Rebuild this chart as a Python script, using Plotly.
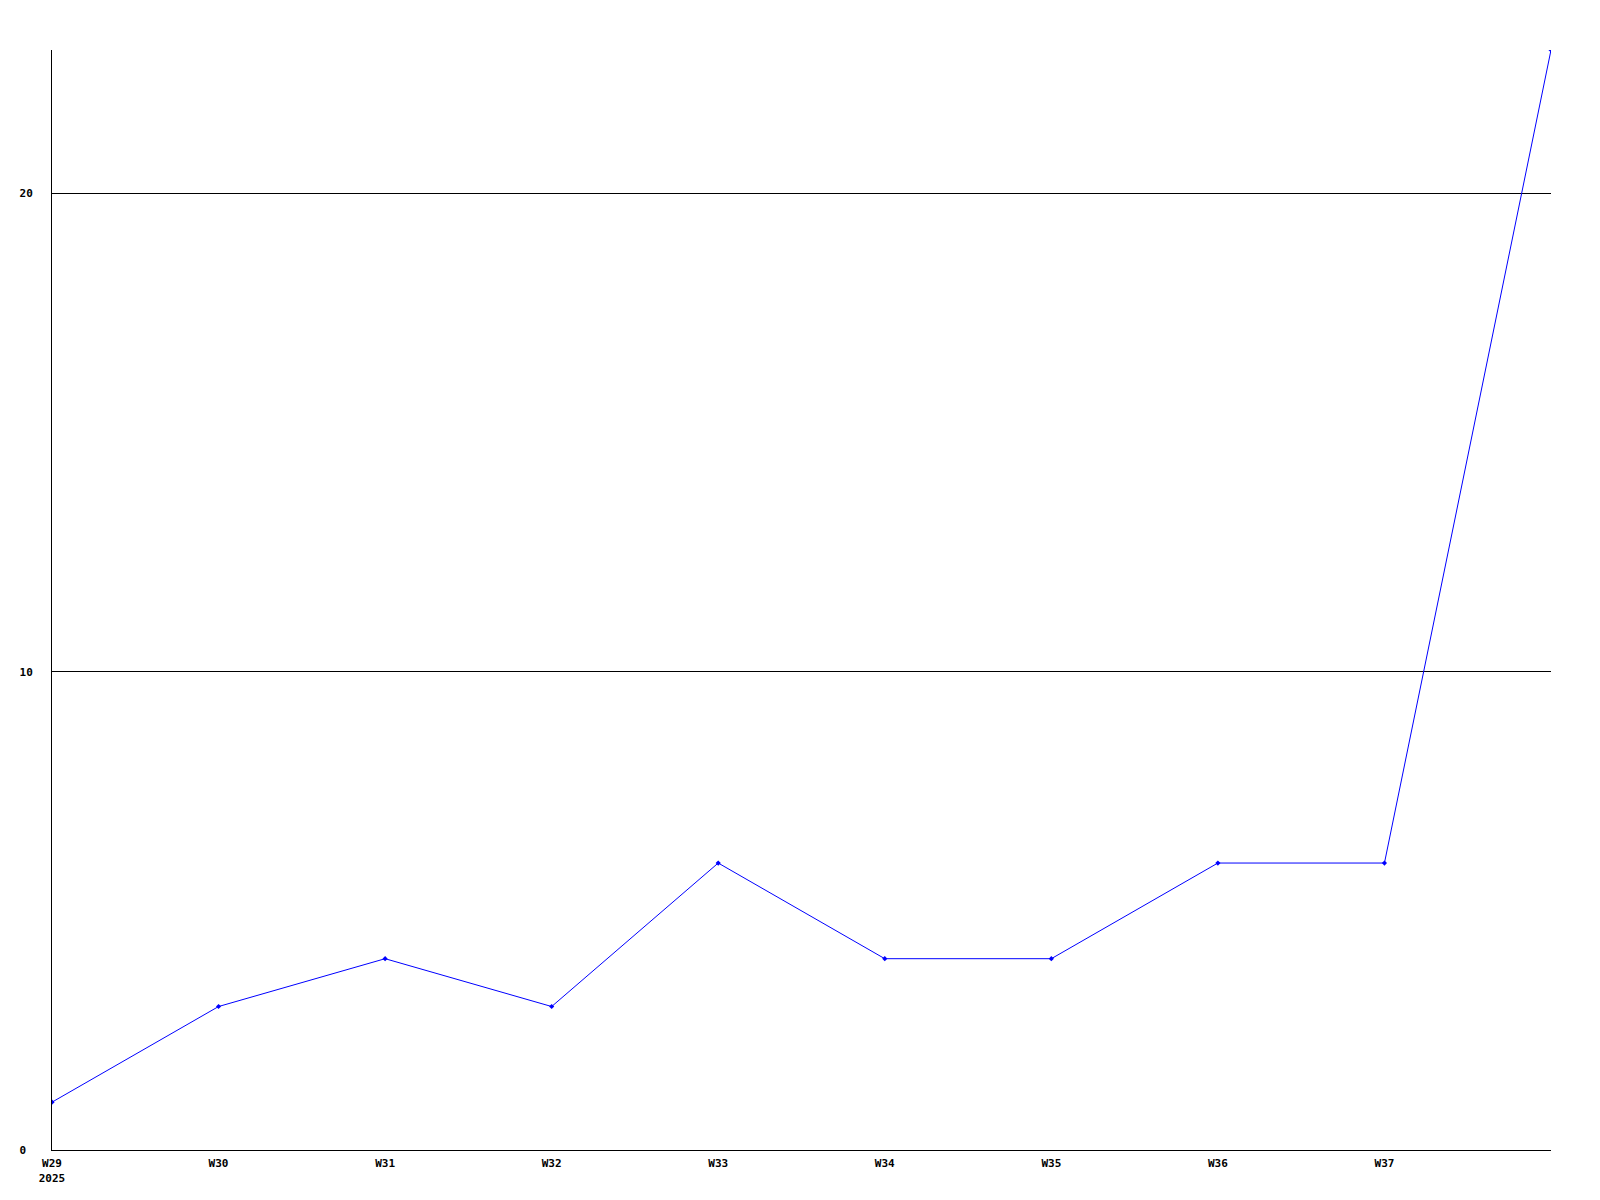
import plotly.graph_objects as go

weeks = ["W29", "W30", "W31", "W32", "W33", "W34", "W35", "W36", "W37", "W38"]
values = [1, 3, 4, 3, 6, 4, 4, 6, 6, 23]
tick_labels = ["W29<br>2025", "W30", "W31", "W32", "W33", "W34", "W35", "W36", "W37"]
y_ticks = [0, 10, 20]
y_tick_labels = ["0\u00a0", "10", "20"]

x = list(range(len(weeks)))

fig = go.Figure()
fig.add_trace(go.Scatter(
    x=x, y=values, mode="lines+markers",
    line=dict(color="#0000ff", width=1),
    marker=dict(color="#0000ff", size=4, symbol="diamond"),
    hoverinfo="skip",
))

font = dict(family="DejaVu Sans Mono", size=11, color="black", weight="bold")

fig.update_layout(
    width=1600, height=1200,
    margin=dict(l=40, r=57, t=42, b=58),
    plot_bgcolor="white", paper_bgcolor="white",
    showlegend=False,
    font=font,
)
fig.update_xaxes(
    range=[0, len(weeks) - 1],
    tickmode="array", tickvals=x[:len(tick_labels)], ticktext=tick_labels,
    showgrid=False, zeroline=False,
    showline=True, linecolor="black", linewidth=1,
    ticks="", ticklabelstandoff=3, tickfont=font,
)
fig.update_yaxes(
    range=[0, 23],
    tickmode="array", tickvals=y_ticks, ticktext=y_tick_labels,
    showgrid=True, gridcolor="black", gridwidth=1,
    zeroline=False,
    showline=True, linecolor="black", linewidth=1,
    ticks="", ticklabelstandoff=16, tickfont=font,
)

fig.write_html("out.html")
